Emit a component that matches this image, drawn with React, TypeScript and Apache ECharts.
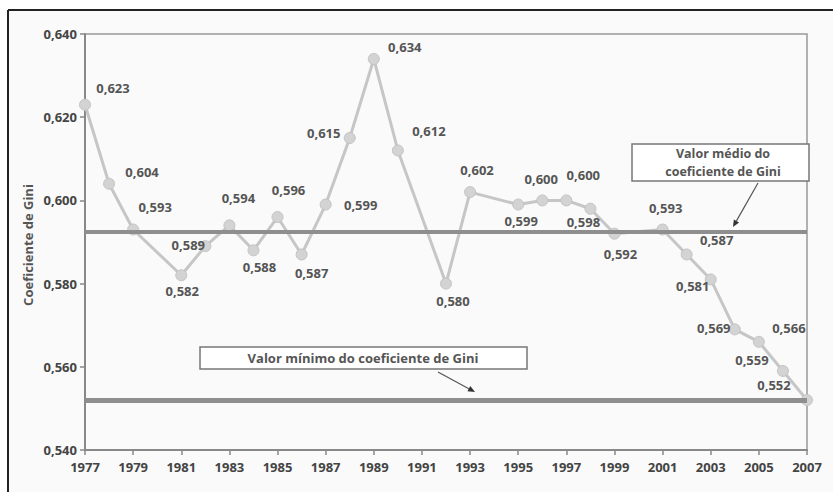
import React, { useEffect, useRef } from "react";
import * as echarts from "echarts";

const years = [1977, 1978, 1979, 1981, 1982, 1983, 1984, 1985, 1986, 1987, 1988, 1989, 1990, 1992, 1993, 1995, 1996, 1997, 1998, 1999, 2001, 2002, 2003, 2004, 2005, 2006, 2007];
const gini = [0.623, 0.604, 0.593, 0.582, 0.589, 0.594, 0.588, 0.596, 0.587, 0.599, 0.615, 0.634, 0.612, 0.58, 0.602, 0.599, 0.6, 0.6, 0.598, 0.592, 0.593, 0.587, 0.581, 0.569, 0.566, 0.559, 0.552];
const meanGini = 0.5924;
const minGini = 0.552;
const yTicks = { min: 0.54, max: 0.64, interval: 0.02 };
const xTicks = { min: 1977, max: 2007, interval: 2 };
const meanTextLines = ["Valor médio do", "coeficiente de Gini"];
const minText = "Valor mínimo do coeficiente de Gini";
const yName = "Coeficiente de Gini";

// label offsets (style only)
const labelOffsets: number[][] = [
  [28, -17], [33, -12], [22, -23], [1, 16], [-17, -1], [9, -27], [6, 17], [11, -27], [10, 19],
  [35, 0], [-26, -5], [31, -12], [31, -19], [7, 17], [7, -22], [3, 16], [-1, -21], [17, -25],
  [-7, 13], [6, 20], [3, -22], [30, -14], [-18, 7], [-21, -1], [30, -14], [-31, -11], [-33, -15],
];

const FONT = "'Open Sans', 'DejaVu Sans', sans-serif";
const fmt = (v: number) => v.toFixed(3).replace(".", ",");

function arrow(x1: number, y1: number, x2: number, y2: number) {
  const dx = x2 - x1, dy = y2 - y1;
  const L = Math.sqrt(dx * dx + dy * dy);
  const ux = dx / L, uy = dy / L;
  const hl = 7, hw = 3;
  const bx = x2 - ux * hl, by = y2 - uy * hl;
  return [
    { type: "line", shape: { x1, y1, x2: bx, y2: by }, style: { stroke: "#555", lineWidth: 1.2 }, z: 20 },
    {
      type: "polygon",
      shape: { points: [[x2, y2], [bx - uy * hw, by + ux * hw], [bx + uy * hw, by - ux * hw]] },
      style: { fill: "#333" },
      z: 20,
    },
  ];
}

export default function App() {
  const ref = useRef<HTMLDivElement>(null);
  useEffect(() => {
    if (!ref.current) return;
    const chart = echarts.init(ref.current, null, { renderer: "svg" });
    chart.setOption({
      animation: false,
      backgroundColor: "#fafafa",
      textStyle: { fontFamily: FONT },
      grid: { left: 85, top: 34, right: 26, bottom: 42, show: true, borderColor: "#999", borderWidth: 1.5, backgroundColor: "transparent" },
      xAxis: {
        type: "value",
        min: xTicks.min,
        max: xTicks.max,
        interval: xTicks.interval,
        splitLine: { show: false },
        axisLine: { lineStyle: { color: "#888", width: 2 } },
        axisTick: { show: true, length: 5, lineStyle: { color: "#888", width: 1.5 } },
        axisLabel: { color: "#444", fontSize: 13, fontWeight: "bold", fontFamily: FONT, margin: 10, formatter: (v: number) => String(v) },
      },
      yAxis: {
        type: "value",
        min: yTicks.min,
        max: yTicks.max,
        interval: yTicks.interval,
        splitLine: { show: false },
        axisLine: { show: true, lineStyle: { color: "#888", width: 2 } },
        axisTick: { show: true, length: 5, lineStyle: { color: "#888", width: 1.5 } },
        axisLabel: { color: "#444", fontSize: 13, fontWeight: "bold", fontFamily: FONT, margin: 8, formatter: (v: number) => fmt(v) },
      },
      series: [
        {
          type: "line",
          data: [],
          z: 1,
          markLine: {
            silent: true,
            symbol: "none",
            precision: 4,
            label: { show: false },
            data: [
              { yAxis: meanGini, lineStyle: { color: "#8e8e8e", width: 4, type: "solid" } },
              { yAxis: minGini, lineStyle: { color: "#8e8e8e", width: 5, type: "solid" } },
            ],
          },
        },
        {
          type: "line",
          z: 3,
          data: years.map((y, i) => ({ value: [y, gini[i]], label: { offset: labelOffsets[i] } })),
          lineStyle: { color: "#c6c6c6", width: 3 },
          symbol: "circle",
          symbolSize: 11,
          itemStyle: { color: "#d3d3d3", borderColor: "#c4c4c4", borderWidth: 1 },
          label: {
            show: true,
            position: "inside",
            color: "#555",
            fontSize: 13,
            fontWeight: "bold",
            fontFamily: FONT,
            formatter: (p: any) => fmt(p.value[1]),
          },
        },
      ],
      graphic: [
        { type: "line", shape: { x1: 8, y1: 10, x2: 833, y2: 10 }, style: { stroke: "#222", lineWidth: 2 }, z: 30 },
        { type: "line", shape: { x1: 8, y1: 10, x2: 8, y2: 492 }, style: { stroke: "#222", lineWidth: 2 }, z: 30 },
        { type: "rect", shape: { x: 0, y: 0, width: 833, height: 9 }, style: { fill: "#ffffff" }, z: 29 },
        { type: "rect", shape: { x: 0, y: 0, width: 7, height: 492 }, style: { fill: "#ffffff" }, z: 29 },
        {
          type: "text",
          x: 28,
          y: 245,
          rotation: Math.PI / 2,
          style: { text: yName, font: `bold 13px ${FONT}`, fill: "#555", textAlign: "center", textVerticalAlign: "middle" },
          z: 10,
        },
        {
          type: "rect",
          shape: { x: 632, y: 144, width: 177, height: 37 },
          style: { fill: "#ffffff", stroke: "#777", lineWidth: 1.5 },
          z: 15,
        },
        {
          type: "text",
          x: 723,
          y: 153.5,
          style: { text: meanTextLines[0], font: `bold 12.5px ${FONT}`, fill: "#555", textAlign: "center", textVerticalAlign: "middle" },
          z: 16,
        },
        {
          type: "text",
          x: 723,
          y: 171,
          style: { text: meanTextLines[1], font: `bold 12.5px ${FONT}`, fill: "#555", textAlign: "center", textVerticalAlign: "middle" },
          z: 16,
        },
        {
          type: "rect",
          shape: { x: 200, y: 347, width: 327, height: 22 },
          style: { fill: "#ffffff", stroke: "#777", lineWidth: 1.5 },
          z: 15,
        },
        {
          type: "text",
          x: 363,
          y: 358,
          style: { text: minText, font: `bold 13px ${FONT}`, fill: "#555", textAlign: "center", textVerticalAlign: "middle" },
          z: 16,
        },
        ...arrow(758, 183, 733, 227),
        ...arrow(438, 372, 475, 392),
      ],
    });
    return () => chart.dispose();
  }, []);
  return <div ref={ref} style={{ position: "absolute", left: 0, top: 0, width: 833, height: 492 }} />;
}
